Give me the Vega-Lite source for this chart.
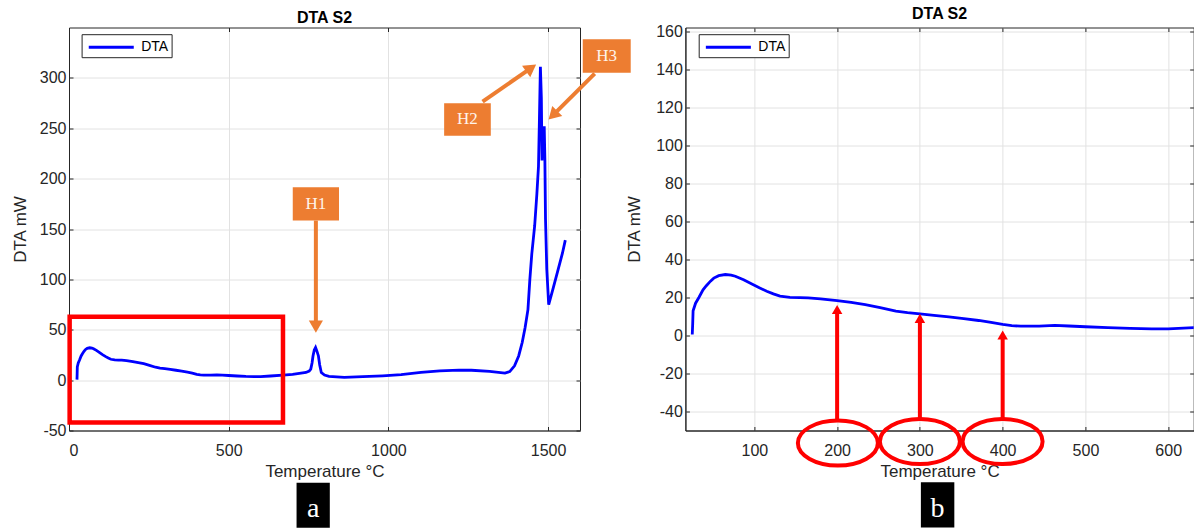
{
  "$schema": "https://vega.github.io/schema/vega-lite/v6.json",
  "background": "white",
  "padding": {"left": 10, "top": 4.5, "right": 0, "bottom": 0},
  "autosize": {"type": "pad"},
  "config": {
    "font": "Liberation Sans",
    "view": {"stroke": "#262626", "strokeWidth": 1},
    "axis": {
      "gridColor": "#e2e2e2",
      "gridWidth": 1,
      "labelFont": "Liberation Sans",
      "labelFontSize": 16,
      "labelColor": "#262626",
      "labelExpr": "datum.value + ''",
      "titleFont": "Liberation Sans",
      "titleFontSize": 17,
      "titleFontWeight": "normal",
      "titleColor": "#262626",
      "domainColor": "#262626",
      "tickColor": "#262626",
      "tickSize": -4
    },
    "legend": {
      "orient": "none",
      "title": null,
      "symbolType": "M -0.7 0 L 4.69 0",
      "symbolSize": 279,
      "symbolStrokeWidth": 3,
      "labelFont": "Liberation Sans",
      "labelFontSize": 14,
      "labelColor": "#000000",
      "labelOffset": 36.6,
      "padding": 3,
      "strokeColor": "#262626",
      "fillColor": "white"
    },
    "title": {"font": "Liberation Sans", "fontSize": 16, "fontWeight": "bold", "color": "#000000", "offset": 1.5}
  },
  "datasets": {
    "dta": [
      {"T": 25, "V": 0.5}, {"T": 25.5, "V": 6}, {"T": 26, "V": 13}, {"T": 29, "V": 17},
      {"T": 33, "V": 20}, {"T": 38, "V": 24}, {"T": 42, "V": 26.2}, {"T": 47, "V": 28.6},
      {"T": 51, "V": 30.2}, {"T": 57, "V": 31.5}, {"T": 65, "V": 32.1}, {"T": 72, "V": 31.8},
      {"T": 77, "V": 31.2}, {"T": 87, "V": 29.3}, {"T": 97, "V": 27.1}, {"T": 106, "V": 25.1},
      {"T": 115, "V": 23.3}, {"T": 123, "V": 21.9}, {"T": 131, "V": 20.7}, {"T": 143, "V": 20.1},
      {"T": 155, "V": 19.9}, {"T": 165, "V": 19.8}, {"T": 180, "V": 19.3}, {"T": 200, "V": 18.4},
      {"T": 217, "V": 17.4}, {"T": 234, "V": 16.3}, {"T": 252, "V": 14.7}, {"T": 271, "V": 12.8},
      {"T": 285, "V": 12}, {"T": 300, "V": 11.4}, {"T": 317, "V": 10.6}, {"T": 335, "V": 9.8},
      {"T": 353, "V": 8.9}, {"T": 371, "V": 7.9}, {"T": 386, "V": 6.9}, {"T": 400, "V": 5.8},
      {"T": 411, "V": 5.2}, {"T": 422, "V": 4.9}, {"T": 444, "V": 4.9}, {"T": 463, "V": 5.3},
      {"T": 480, "V": 5}, {"T": 500, "V": 4.6}, {"T": 527, "V": 4.1}, {"T": 554, "V": 3.7},
      {"T": 580, "V": 3.5}, {"T": 600, "V": 3.5}, {"T": 631, "V": 4.1}, {"T": 670, "V": 5},
      {"T": 700, "V": 5.8}, {"T": 742, "V": 7.6}, {"T": 752, "V": 9}, {"T": 757, "V": 11},
      {"T": 761, "V": 17}, {"T": 764, "V": 24}, {"T": 768, "V": 30}, {"T": 772, "V": 32.4},
      {"T": 776, "V": 29}, {"T": 781, "V": 24}, {"T": 785, "V": 15}, {"T": 790, "V": 7.6},
      {"T": 800, "V": 5}, {"T": 814, "V": 3.7}, {"T": 862, "V": 2.7}, {"T": 920, "V": 3.4},
      {"T": 982, "V": 4.3}, {"T": 1040, "V": 5.5}, {"T": 1102, "V": 7.6}, {"T": 1161, "V": 9.2},
      {"T": 1221, "V": 9.9}, {"T": 1260, "V": 9.8}, {"T": 1317, "V": 8.6}, {"T": 1365, "V": 6.9},
      {"T": 1380, "V": 8.5}, {"T": 1395, "V": 14.2}, {"T": 1408, "V": 24}, {"T": 1419, "V": 37.3},
      {"T": 1428, "V": 52}, {"T": 1437, "V": 70}, {"T": 1443, "V": 100}, {"T": 1449, "V": 125},
      {"T": 1458, "V": 153}, {"T": 1465, "V": 185}, {"T": 1470, "V": 212}, {"T": 1473, "V": 260},
      {"T": 1476, "V": 311}, {"T": 1479, "V": 280}, {"T": 1481, "V": 218}, {"T": 1484, "V": 250},
      {"T": 1486, "V": 222}, {"T": 1488, "V": 252}, {"T": 1490, "V": 220}, {"T": 1492, "V": 160},
      {"T": 1496, "V": 110}, {"T": 1502, "V": 75}, {"T": 1515, "V": 90}, {"T": 1530, "V": 108},
      {"T": 1545, "V": 126}, {"T": 1554, "V": 139}
    ]
  },
  "bounds": "flush",
  "spacing": 105.4,
  "resolve": {"scale": {"color": "independent"}, "legend": {"color": "independent"}},
  "hconcat": [
    {
      "width": 511,
      "height": 403,
      "title": "DTA S2",
      "layer": [
        {
          "data": {"name": "dta"},
          "mark": {"type": "line", "strokeWidth": 2.8},
          "encoding": {
            "x": {
              "field": "T", "type": "quantitative",
              "scale": {"domain": [0, 1600], "nice": false, "zero": false},
              "axis": {"orient": "bottom", "values": [0, 500, 1000, 1500], "title": "Temperature °C", "labelPadding": 16, "titlePadding": 5}
            },
            "y": {
              "field": "V", "type": "quantitative",
              "scale": {"domain": [-50, 350], "nice": false, "zero": false},
              "axis": {"orient": "left", "values": [-50, 0, 50, 100, 150, 200, 250, 300], "title": "DTA mW", "labelPadding": 7, "titlePadding": 10}
            },
            "color": {
              "datum": "DTA", "type": "nominal",
              "scale": {"range": ["#0000ff"]},
              "legend": {"legendX": 12.6, "legendY": 6.7}
            }
          }
        },
        {
          "data": {"values": [{"x": 2, "x2": 670, "y": 63, "y2": -42}]},
          "mark": {"type": "rect", "fill": "white", "fillOpacity": 0, "stroke": "#ff0000", "strokeWidth": 4.5, "clip": false},
          "encoding": {
            "x": {"field": "x", "type": "quantitative",
              "axis": {"orient": "top", "values": [0, 500, 1000, 1500], "labels": false, "domain": false, "grid": false, "title": null}},
            "x2": {"field": "x2"},
            "y": {"field": "y", "type": "quantitative",
              "axis": {"orient": "right", "values": [-50, 0, 50, 100, 150, 200, 250, 300], "labels": false, "domain": false, "grid": false, "title": null}},
            "y2": {"field": "y2"}
          }
        },
        {
          "data": {"values": [
            {"x": 773, "y": 158.4, "x2": 773, "y2": 58.6},
            {"x": 1295, "y": 276.5, "x2": 1432.7, "y2": 306.7},
            {"x": 1646, "y": 304.2, "x2": 1527.5, "y2": 266.8}
          ]},
          "mark": {"type": "rule", "color": "#ed7d31", "strokeWidth": 4, "clip": false},
          "encoding": {
            "x": {"field": "x", "type": "quantitative", "axis": null},
            "x2": {"field": "x2"},
            "y": {"field": "y", "type": "quantitative", "axis": null},
            "y2": {"field": "y2"}
          }
        },
        {
          "data": {"values": [{"x": 773, "y": 55.2}]},
          "mark": {"type": "point", "shape": "triangle", "angle": 180, "size": 200, "filled": true, "color": "#ed7d31", "opacity": 1, "clip": false},
          "encoding": {
            "x": {"field": "x", "type": "quantitative", "axis": null},
            "y": {"field": "y", "type": "quantitative", "axis": null}
          }
        },
        {
          "data": {"values": [{"x": 1441.8, "y": 308.7}]},
          "mark": {"type": "point", "shape": "triangle", "angle": 54.6, "size": 200, "filled": true, "color": "#ed7d31", "opacity": 1, "clip": false},
          "encoding": {
            "x": {"field": "x", "type": "quantitative", "axis": null},
            "y": {"field": "y", "type": "quantitative", "axis": null}
          }
        },
        {
          "data": {"values": [{"x": 1519.7, "y": 264.3}]},
          "mark": {"type": "point", "shape": "triangle", "angle": 225, "size": 200, "filled": true, "color": "#ed7d31", "opacity": 1, "clip": false},
          "encoding": {
            "x": {"field": "x", "type": "quantitative", "axis": null},
            "y": {"field": "y", "type": "quantitative", "axis": null}
          }
        },
        {
          "data": {"values": [
            {"label": "H1", "x": 700.6, "x2": 845.4, "y": 191.4, "y2": 158.4, "cx": 773, "cy": 174.9},
            {"label": "H2", "x": 1174.6, "x2": 1320.7, "y": 274.9, "y2": 242.6, "cx": 1247.6, "cy": 258.8},
            {"label": "H3", "x": 1608.6, "x2": 1758.8, "y": 338.3, "y2": 305.2, "cx": 1683.7, "cy": 321.7}
          ]},
          "layer": [
            {
              "mark": {"type": "rect", "color": "#ed7d31", "clip": false},
              "encoding": {
                "x": {"field": "x", "type": "quantitative", "axis": null},
                "x2": {"field": "x2"},
                "y": {"field": "y", "type": "quantitative", "axis": null},
                "y2": {"field": "y2"}
              }
            },
            {
              "mark": {"type": "text", "font": "Liberation Serif", "fontSize": 17, "color": "#fff3ea", "align": "center", "baseline": "middle", "clip": false},
              "encoding": {
                "x": {"field": "cx", "type": "quantitative", "axis": null},
                "y": {"field": "cy", "type": "quantitative", "axis": null},
                "text": {"field": "label"}
              }
            }
          ]
        },
        {
          "data": {"values": [{"label": "a", "x": 712.5, "x2": 816.6, "y": -101.8, "y2": -146.5, "cx": 764.5, "cy": -135.8}]},
          "layer": [
            {
              "mark": {"type": "rect", "color": "#000000", "clip": false},
              "encoding": {
                "x": {"field": "x", "type": "quantitative", "axis": null},
                "x2": {"field": "x2"},
                "y": {"field": "y", "type": "quantitative", "axis": null},
                "y2": {"field": "y2"}
              }
            },
            {
              "mark": {"type": "text", "font": "Liberation Serif", "fontSize": 28, "color": "#ffffff", "align": "center", "baseline": "alphabetic", "clip": false},
              "encoding": {
                "x": {"field": "cx", "type": "quantitative", "axis": null},
                "y": {"field": "cy", "type": "quantitative", "axis": null},
                "text": {"field": "label"}
              }
            }
          ]
        }
      ]
    },
    {
      "width": 508.3,
      "height": 403,
      "title": "DTA S2",
      "layer": [
        {
          "data": {"name": "dta"},
          "transform": [{"filter": "datum.T <= 700"}],
          "mark": {"type": "line", "strokeWidth": 2.8, "clip": true},
          "encoding": {
            "x": {
              "field": "T", "type": "quantitative",
              "scale": {"domain": [16.7, 630.8], "nice": false, "zero": false},
              "axis": {"orient": "bottom", "values": [100, 200, 300, 400, 500, 600], "title": "Temperature °C", "labelPadding": 16, "titlePadding": 5}
            },
            "y": {
              "field": "V", "type": "quantitative",
              "scale": {"domain": [-50, 162.1], "nice": false, "zero": false},
              "axis": {"orient": "left", "values": [-40, -20, 0, 20, 40, 60, 80, 100, 120, 140, 160], "title": "DTA mW", "labelPadding": 7, "titlePadding": 12}
            },
            "color": {
              "datum": "DTA", "type": "nominal",
              "scale": {"range": ["#0000ff"]},
              "legend": {"legendX": 13.3, "legendY": 6.7}
            }
          }
        },
        {
          "data": {"values": [
            {"x": 200, "y": -44.6, "y2": 11.7},
            {"x": 300, "y": -44.6, "y2": 7.0},
            {"x": 400, "y": -44.6, "y2": -1.7}
          ]},
          "mark": {"type": "rule", "color": "#ff0000", "strokeWidth": 4, "clip": false},
          "encoding": {
            "x": {"field": "x", "type": "quantitative",
              "axis": {"orient": "top", "values": [100, 200, 300, 400, 500, 600], "labels": false, "domain": false, "grid": false, "title": null}},
            "y": {"field": "y", "type": "quantitative",
              "axis": {"orient": "right", "values": [-40, -20, 0, 20, 40, 60, 80, 100, 120, 140, 160], "labels": false, "domain": false, "grid": false, "title": null}},
            "y2": {"field": "y2"}
          }
        },
        {
          "data": {"values": [
            {"x": 200, "y": 12.9},
            {"x": 300, "y": 8.2},
            {"x": 400, "y": -0.5}
          ]},
          "mark": {"type": "point", "shape": "triangle", "size": 110, "filled": true, "color": "#ff0000", "opacity": 1, "clip": false},
          "encoding": {
            "x": {"field": "x", "type": "quantitative", "axis": null},
            "y": {"field": "y", "type": "quantitative", "axis": null}
          }
        },
        {
          "data": {"values": [
            {"x": 200.9, "y": -56.6},
            {"x": 300, "y": -55.8},
            {"x": 399.9, "y": -55.8}
          ]},
          "mark": {
            "type": "point",
            "shape": "M -1 0 A 1 0.5625 0 1 1 1 0 A 1 0.5625 0 1 1 -1 0 Z",
            "size": 6400, "filled": false, "color": "#ff0000", "strokeWidth": 4, "opacity": 1, "clip": false
          },
          "encoding": {
            "x": {"field": "x", "type": "quantitative", "axis": null},
            "y": {"field": "y", "type": "quantitative", "axis": null}
          }
        },
        {
          "data": {"values": [{"label": "b", "x": 301.2, "x2": 341.6, "y": -77.2, "y2": -101, "cx": 321.4, "cy": -95.3}]},
          "layer": [
            {
              "mark": {"type": "rect", "color": "#000000", "clip": false},
              "encoding": {
                "x": {"field": "x", "type": "quantitative", "axis": null},
                "x2": {"field": "x2"},
                "y": {"field": "y", "type": "quantitative", "axis": null},
                "y2": {"field": "y2"}
              }
            },
            {
              "mark": {"type": "text", "font": "Liberation Serif", "fontSize": 28, "color": "#ffffff", "align": "center", "baseline": "alphabetic", "clip": false},
              "encoding": {
                "x": {"field": "cx", "type": "quantitative", "axis": null},
                "y": {"field": "cy", "type": "quantitative", "axis": null},
                "text": {"field": "label"}
              }
            }
          ]
        }
      ]
    }
  ]
}
